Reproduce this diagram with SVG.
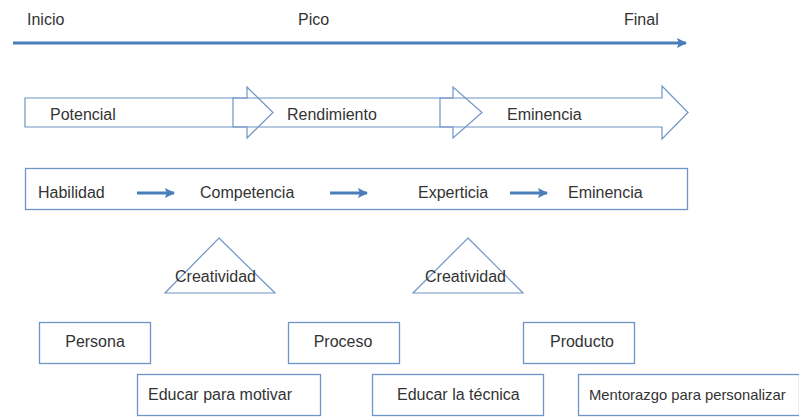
<svg xmlns="http://www.w3.org/2000/svg" width="799" height="417" viewBox="0 0 799 417">
<style>
text{font-family:"Liberation Sans",Arial,sans-serif;font-size:16px;fill:#333}
.sm{font-size:14.8px}
.box{fill:none;stroke:#6f94c8;stroke-width:1.3}
.blk{fill:none;stroke:#6f94c8;stroke-width:1.2}
.ln{stroke:#4a7ebb;stroke-width:3;fill:none}
</style>
<defs>
<marker id="ah" viewBox="0 0 10 10" refX="9" refY="5" markerWidth="3.4" markerHeight="3.8" orient="auto" markerUnits="strokeWidth">
<path d="M0,0 L10,5 L0,10 L2,5 Z" fill="#4a7ebb"/>
</marker>
</defs>
<rect width="799" height="417" fill="#fff"/>
<g id="timeline">
<text x="27" y="25">Inicio</text>
<text x="298" y="25">Pico</text>
<text x="624" y="25">Final</text>
</g>
<g id="connectors">
<line class="ln" x1="13" y1="43" x2="686" y2="43" marker-end="url(#ah)"/>
<line class="ln" x1="137" y1="193" x2="174" y2="193" marker-end="url(#ah)"/>
<line class="ln" x1="330" y1="193" x2="367" y2="193" marker-end="url(#ah)"/>
<line class="ln" x1="510" y1="193" x2="547" y2="193" marker-end="url(#ah)"/>
</g>
<g id="potencial">
<path class="blk" d="M25,98 H247 V87 L273,112.5 L247,138 V127 H25 Z"/>
<text x="50" y="120">Potencial</text>
</g>
<g id="rendimiento">
<path class="blk" d="M233,98 H453 V87 L482,112.5 L453,138 V127 H233 Z"/>
<text x="287" y="120">Rendimiento</text>
</g>
<g id="eminencia-arrow">
<path class="blk" d="M440,98 H662 V86 L688,112.5 L662,139 V127 H440 Z"/>
<text x="507" y="120">Eminencia</text>
</g>
<g id="fases">
<rect class="box" x="25.5" y="168.5" width="662" height="41"/>
<text x="38" y="198">Habilidad</text>
<text x="200" y="198">Competencia</text>
<text x="418" y="198">Experticia</text>
<text x="568" y="198">Eminencia</text>
</g>
<g id="creatividad1">
<path class="blk" d="M219,238 L275,293 H165 Z"/>
<text x="175" y="282">Creatividad</text>
</g>
<g id="creatividad2">
<path class="blk" d="M468,238 L523,293 H413 Z"/>
<text x="425" y="282">Creatividad</text>
</g>
<g id="persona">
<rect class="box" x="39.5" y="322.5" width="111" height="41"/>
<text x="95" y="347" text-anchor="middle">Persona</text>
</g>
<g id="proceso">
<rect class="box" x="288.5" y="322.5" width="111" height="41"/>
<text x="343" y="347" text-anchor="middle">Proceso</text>
</g>
<g id="producto">
<rect class="box" x="523.5" y="322.5" width="111" height="41"/>
<text x="582" y="347" text-anchor="middle">Producto</text>
</g>
<g id="educar-motivar">
<rect class="box" x="137.5" y="374.5" width="183" height="41"/>
<text x="148" y="400">Educar para motivar</text>
</g>
<g id="educar-tecnica">
<rect class="box" x="372.5" y="374.5" width="171" height="41"/>
<text x="397" y="400">Educar la técnica</text>
</g>
<g id="mentorazgo">
<rect class="box" x="578.5" y="374.5" width="221" height="41"/>
<text class="sm" x="589" y="400">Mentorazgo para personalizar</text>
</g>
</svg>
